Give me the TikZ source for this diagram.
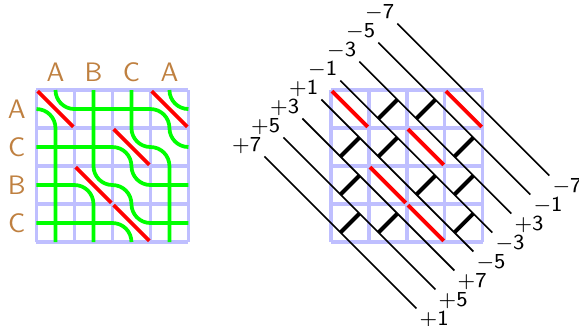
\documentclass[tikz,border=0pt]{standalone}
\usepackage{amsmath,amssymb}
\usepackage{tikz}
\usetikzlibrary{calc}

\begin{document}
\begin{tikzpicture}[scale=0.5,
    lav/.style={draw=blue!25, line width=1.2pt},
    wire/.style={draw=green, line width=1.4pt},
    redbar/.style={draw=red, line width=1.4pt, shorten >=0.6pt, shorten <=0.6pt},
    diag/.style={draw=black, line width=0.6pt},
    rung/.style={draw=black, line width=1.5pt},
    letter/.style={text=brown, inner sep=0pt, font=\sffamily\fontsize{10}{12}\selectfont},
    num/.style={inner sep=1pt, font=\sffamily\fontsize{8}{10}\selectfont}]
    \useasboundingbox (-0.96,-2.21) rectangle (14.28,6.37);
    % left picture: wires
    \draw[lav] (0,0) grid[step=1] (4,4);
    \draw[wire] (0.5,4) arc (180:270:0.5) -- (3,3.5) arc (90:0:0.5) arc (180:270:0.5);
    \draw[wire] (1.5,4) -- (1.5,2) arc (180:270:0.5) arc (90:0:0.5) arc (180:270:0.5) -- (4,0.5);
    \draw[wire] (2.5,4) -- (2.5,3) arc (180:270:0.5) arc (90:0:0.5) -- (3.5,0);
    \draw[wire] (3.5,4) arc (180:270:0.5);
    \draw[wire] (0,3.5) arc (90:0:0.5) -- (0.5,0);
    \draw[wire] (0,2.5) -- (2,2.5) arc (90:0:0.5) arc (180:270:0.5) -- (4,1.5);
    \draw[wire] (0,1.5) -- (1,1.5) arc (90:0:0.5) -- (1.5,0);
    \draw[wire] (0,0.5) -- (2,0.5) arc (90:0:0.5);
    \draw[redbar] (0,4) -- (1,3);
    \draw[redbar] (3,4) -- (4,3);
    \draw[redbar] (2,3) -- (3,2);
    \draw[redbar] (1,2) -- (2,1);
    \draw[redbar] (2,1) -- (3,0);
    \node[letter, anchor=base] (c1) at (0.5,4.22) {A};
    \node[letter, anchor=base] (c2) at (1.5,4.22) {B};
    \node[letter, anchor=base] (c3) at (2.5,4.22) {C};
    \node[letter, anchor=base] (c4) at (3.5,4.22) {A};
    \node[letter] (r1) at (-0.52,3.5) {A};
    \node[letter] (r2) at (-0.52,2.5) {C};
    \node[letter] (r3) at (-0.52,1.5) {B};
    \node[letter] (r4) at (-0.52,0.5) {C};
    % right picture: strands
    \begin{scope}[shift={(7.75,0)}]
    \draw[lav] (0,0) grid[step=1] (4,4);
    \coordinate (P1) at (1.75,5.75);  \coordinate (Q1) at (5.75,1.75);
    \coordinate (P2) at (1.25,5.25);  \coordinate (Q2) at (5.25,1.25);
    \coordinate (P3) at (0.75,4.75);  \coordinate (Q3) at (4.75,0.75);
    \coordinate (P4) at (0.25,4.25);  \coordinate (Q4) at (4.25,0.25);
    \coordinate (P5) at (-0.25,3.75); \coordinate (Q5) at (3.75,-0.25);
    \coordinate (P6) at (-0.75,3.25); \coordinate (Q6) at (3.25,-0.75);
    \coordinate (P7) at (-1.25,2.75); \coordinate (Q7) at (2.75,-1.25);
    \coordinate (P8) at (-1.75,2.25); \coordinate (Q8) at (2.25,-1.75);
    \draw[diag] (P1) -- (Q1);
    \draw[diag] (P2) -- (Q2);
    \draw[diag] (P3) -- (Q3);
    \draw[diag] (P4) -- (Q4);
    \draw[diag] (P5) -- (Q5);
    \draw[diag] (P6) -- (Q6);
    \draw[diag] (P7) -- (Q7);
    \draw[diag] (P8) -- (Q8);
    \draw[rung] (1.25,3.25) -- (1.75,3.75);
    \draw[rung] (2.25,3.25) -- (2.75,3.75);
    \draw[rung] (0.25,2.25) -- (0.75,2.75);
    \draw[rung] (1.25,2.25) -- (1.75,2.75);
    \draw[rung] (3.25,2.25) -- (3.75,2.75);
    \draw[rung] (0.25,1.25) -- (0.75,1.75);
    \draw[rung] (2.25,1.25) -- (2.75,1.75);
    \draw[rung] (3.25,1.25) -- (3.75,1.75);
    \draw[rung] (0.25,0.25) -- (0.75,0.75);
    \draw[rung] (1.25,0.25) -- (1.75,0.75);
    \draw[rung] (3.25,0.25) -- (3.75,0.75);
    \draw[redbar] (0,4) -- (1,3);
    \draw[redbar] (3,4) -- (4,3);
    \draw[redbar] (2,3) -- (3,2);
    \draw[redbar] (1,2) -- (2,1);
    \draw[redbar] (2,1) -- (3,0);
    \end{scope}
    \node[num, above left] (tP1) at (P1) {$\mathsf{-7}$};
    \node[num, above left] (tP2) at (P2) {$\mathsf{-5}$};
    \node[num, above left] (tP3) at (P3) {$\mathsf{-3}$};
    \node[num, above left] (tP4) at (P4) {$\mathsf{-1}$};
    \node[num, above left] (tP5) at (P5) {$\mathsf{+1}$};
    \node[num, above left] (tP6) at (P6) {$\mathsf{+3}$};
    \node[num, above left] (tP7) at (P7) {$\mathsf{+5}$};
    \node[num, above left] (tP8) at (P8) {$\mathsf{+7}$};
    \node[num, below right] (tQ1) at (Q1) {$\mathsf{-7}$};
    \node[num, below right] (tQ2) at (Q2) {$\mathsf{-1}$};
    \node[num, below right] (tQ3) at (Q3) {$\mathsf{+3}$};
    \node[num, below right] (tQ4) at (Q4) {$\mathsf{-3}$};
    \node[num, below right] (tQ5) at (Q5) {$\mathsf{-5}$};
    \node[num, below right] (tQ6) at (Q6) {$\mathsf{+7}$};
    \node[num, below right] (tQ7) at (Q7) {$\mathsf{+5}$};
    \node[num, below right] (tQ8) at (Q8) {$\mathsf{+1}$};
\end{tikzpicture}
\end{document}
